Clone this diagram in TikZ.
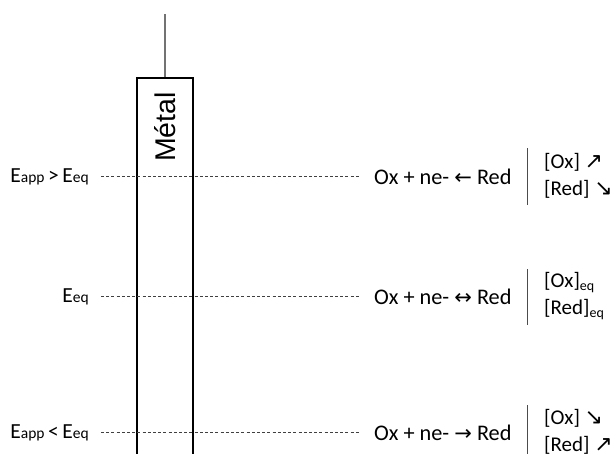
\documentclass[tikz,border=0pt]{standalone}
\usepackage{fontspec}
\setmainfont{Carlito}
\newfontfamily\arialfont{Liberation Sans}
\newfontfamily\symfont{DejaVu Sans}
\newcommand{\sm}[1]{{\fontsize{15.5}{15.5}\selectfont #1}}
\newcommand{\sarr}[1]{\raisebox{0pt}[0pt][0pt]{\symfont\fontsize{21}{21}\selectfont #1}}
\newcommand{\darr}[1]{\raisebox{0pt}[0pt][0pt]{\symfont\fontsize{22}{22}\selectfont #1}}
\newcommand{\seq}{\raisebox{-2.5pt}{\fontsize{14}{14}\selectfont eq}}
\begin{document}
\begin{tikzpicture}[x=1pt,y=-1pt,
  lbl/.style={anchor=east,inner sep=0pt,font=\fontsize{21.5}{22}\selectfont},
  rxn/.style={anchor=west,inner sep=0pt,font=\fontsize{22.3}{24}\selectfont},
  conc/.style={anchor=west,inner sep=0pt,align=left,font=\fontsize{21}{27}\selectfont},
  dashline/.style={draw=black!75,dash pattern=on 3pt off 2.2pt,line width=0.8pt},
  bar/.style={draw=black!70,line width=1pt}]
\useasboundingbox (0,0) rectangle (613,453);
% electrode
\coordinate (wtop) at (165,14);
\coordinate (wbot) at (165,78);
\draw[black!55,line width=1.6pt] (wtop) -- (wbot);
\draw[black,line width=1.2pt] (137,460) -- (137,78) -- (193,78) -- (193,460);
\node[rotate=90,inner sep=0pt,font=\arialfont\fontsize{28.5}{30}\selectfont] (metal) at (165,127) {Métal};
% row a
\node[lbl] (La) at (89,176.5) {E\sm{app}\,>\,E\sm{eq}};
\node[rxn] (Ra) at (374,176.5) {Ox + ne- \sarr{←} Red};
\coordinate (Dsa) at (101,176.5);
\coordinate (Dea) at (360,176.5);
\draw[dashline] (Dsa) -- (Dea);
\coordinate (Bta) at (527.5,148);
\coordinate (Bba) at (527.5,205);
\draw[bar] (Bta) -- (Bba);
\node[conc] (Ca) at (544,176) {[Ox] \darr{↗}\\{}[Red] \darr{↘}};
% row b
\node[lbl] (Lb) at (89,296.5) {E\sm{eq}};
\node[rxn] (Rb) at (374,296.5) {Ox + ne- \sarr{↔} Red};
\coordinate (Dsb) at (101,296.5);
\coordinate (Deb) at (360,296.5);
\draw[dashline] (Dsb) -- (Deb);
\coordinate (Btb) at (527.5,269);
\coordinate (Bbb) at (527.5,325);
\draw[bar] (Btb) -- (Bbb);
\node[conc] (Cb) at (544,296) {[Ox]\seq\\{}[Red]\seq};
% row c
\node[lbl] (Lc) at (89,432.5) {E\sm{app}\,<\,E\sm{eq}};
\node[rxn] (Rc) at (374,432.5) {Ox + ne- \sarr{→} Red};
\coordinate (Dsc) at (101,432.5);
\coordinate (Dec) at (360,432.5);
\draw[dashline] (Dsc) -- (Dec);
\coordinate (Btc) at (527.5,405);
\coordinate (Bbc) at (527.5,460);
\draw[bar] (Btc) -- (Bbc);
\node[conc] (Cc) at (544,432) {[Ox] \darr{↘}\\{}[Red] \darr{↗}};
\end{tikzpicture}
\end{document}
